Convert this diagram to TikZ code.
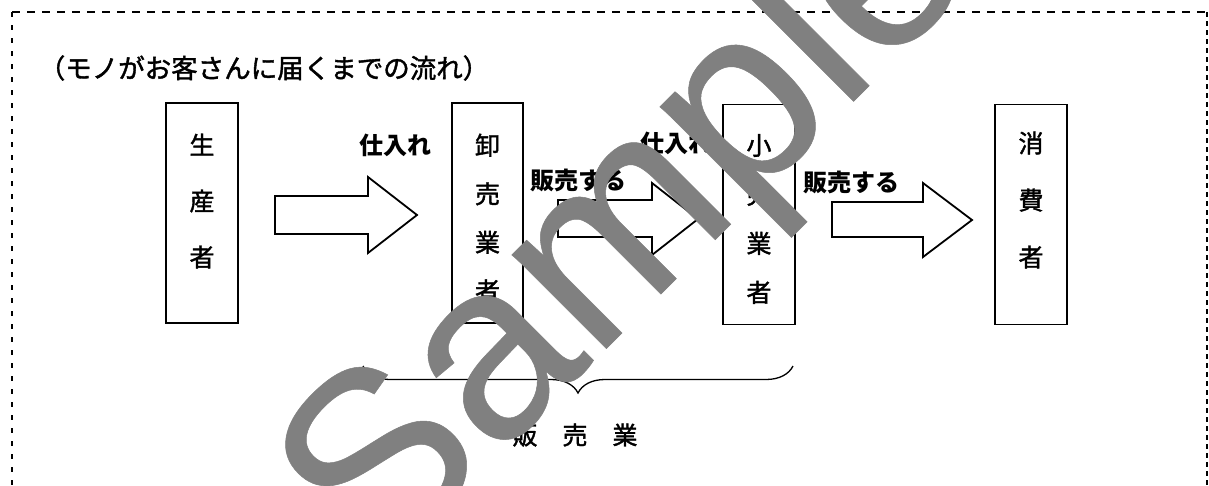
\documentclass[tikz,border=0pt]{standalone}
\usepackage{fontspec}
\newfontfamily\jp[FakeBold=1.5]{Noto Sans CJK JP}
\newfontfamily\jpb{Noto Sans CJK JP}
\newfontfamily\wmfont[FakeBold=0.2]{Liberation Sans}
\usetikzlibrary{decorations.pathreplacing}
\begin{document}
\begin{tikzpicture}[x=1pt,y=-1pt,
  box/.style={draw, line width=1.8pt, minimum width=72pt, minimum height=220pt, inner sep=0pt},
  boxtext/.style={align=center, inner sep=0pt, font={\jp\fontsize{25}{#1}\selectfont}},
  blockarrow/.style={draw, line width=1.8pt, fill=white, line join=miter},
  lbl/.style={inner sep=0pt, font={\jpb\bfseries\fontsize{24}{28}\selectfont}},
  border/.style={line width=1.4pt},
  wm/.style={inner sep=0pt, text=black!50, font={\wmfont\fontsize{252}{252}\selectfont}}]
\useasboundingbox (0,0) rectangle (1209,485);
\fill[white] (0,0) rectangle (1209,485);
% dashed frame
\draw[border, dash pattern=on 8pt off 7pt] (12,12) -- (1207,12);
\draw[border, dash pattern=on 5pt off 8pt] (12,12) -- (12,485);
\draw[border, dash pattern=on 5pt off 4pt] (1207,12) -- (1207,485);
% title
\node[inner sep=0pt, font={\jp\fontsize{26.5}{30}\selectfont}] (title) at (264,68) {（モノがお客さんに届くまでの流れ）};
% boxes
\node[box] (prod) at (202,213) {};
\node[boxtext=56] (prodt) at (202,201) {生\\産\\者};
\node[box, minimum width=71pt] (whole) at (487.5,213) {};
\node[boxtext=48.5] (wholet) at (487.5,218) {卸\\売\\業\\者};
\node[box] (retail) at (759,214.5) {};
\node[boxtext=49] (retailt) at (759,219) {小\\売\\業\\者};
\node[box] (cons) at (1031,214.5) {};
\node[boxtext=57] (const) at (1031,200) {消\\費\\者};
% block arrows
\draw[blockarrow] (275,196) -- (368,196) -- (368,177) -- (417,215) -- (368,253) -- (368,234) -- (275,234) -- cycle;
\draw[blockarrow] (558,200) -- (652,200) -- (652,183) -- (698,219) -- (652,255) -- (652,237) -- (558,237) -- cycle;
\draw[blockarrow] (832,202) -- (923,202) -- (923,183) -- (972,220) -- (923,257) -- (923,237) -- (832,237) -- cycle;
% labels
\node[lbl] (buy1) at (395,145) {仕入れ};
\node[lbl] (buy2) at (676,143) {仕入れ};
\node[lbl] (sell1) at (578,180) {販売する};
\node[lbl] (sell2) at (851,182) {販売する};
% brace
\coordinate (bl) at (363,366);
\coordinate (br) at (793,366);
\draw[line width=1.3pt, decorate, decoration={brace, amplitude=27pt, mirror}] (bl) -- (br);
\node[inner sep=0pt, font={\jp\fontsize{25}{30}\selectfont}] (sales) at (575,435) {販　売　業};
% watermark
\node[wm, rotate=45, anchor=base west] (mark) at (376,579) {Sample};
\end{tikzpicture}
\end{document}
